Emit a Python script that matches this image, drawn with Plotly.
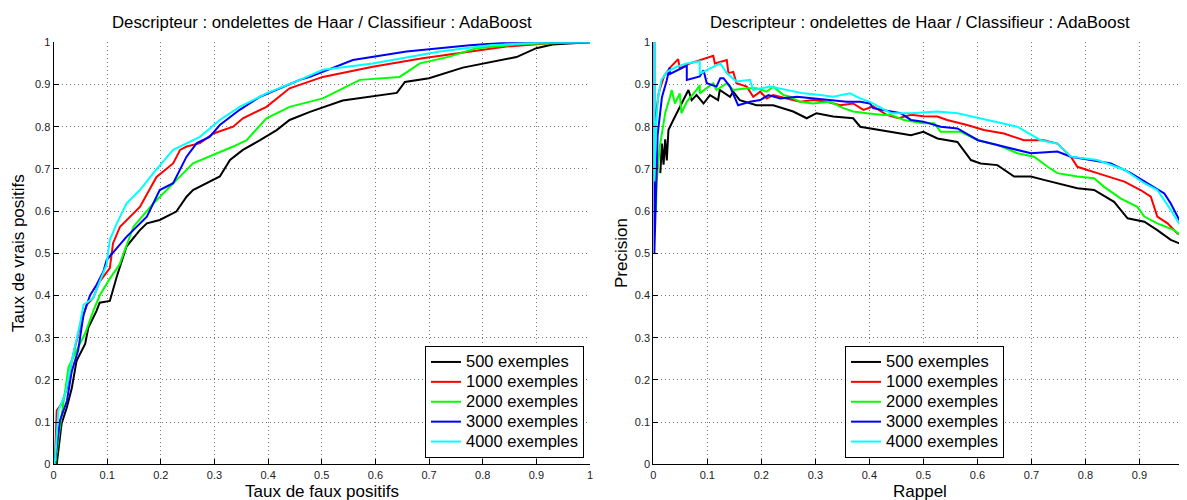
import plotly.graph_objects as go

# ROC curves (taux de faux positifs / taux de vrais positifs)
roc_fpr_500 = [0, 0.006, 0.015, 0.025, 0.034, 0.043, 0.059, 0.065, 0.08, 0.086,
               0.105, 0.118, 0.136, 0.161, 0.174, 0.198, 0.229, 0.248, 0.26, 0.285,
               0.31, 0.329, 0.353, 0.385, 0.416, 0.44, 0.478, 0.539, 0.60, 0.64,
               0.655, 0.70, 0.763, 0.82, 0.863, 0.90, 0.93, 1.0]
roc_tpr_500 = [0, 0, 0.096, 0.135, 0.18, 0.245, 0.285, 0.324, 0.363, 0.383,
               0.387, 0.445, 0.516, 0.555, 0.571, 0.579, 0.599, 0.634, 0.65, 0.666,
               0.682, 0.721, 0.745, 0.768, 0.792, 0.816, 0.835, 0.862, 0.872, 0.88,
               0.906, 0.915, 0.94, 0.955, 0.965, 0.986, 0.995, 1.0]

roc_fpr_1000 = [0, 0.003, 0.006, 0.015, 0.025, 0.034, 0.049, 0.062, 0.074, 0.086,
                0.105, 0.111, 0.124, 0.161, 0.192, 0.223, 0.236, 0.248, 0.273, 0.298,
                0.335, 0.353, 0.397, 0.44, 0.502, 0.595, 0.688, 0.781, 0.844, 0.925, 1.0]
roc_tpr_1000 = [0, 0.017, 0.127, 0.143, 0.18, 0.245, 0.324, 0.378, 0.394, 0.433,
                0.465, 0.524, 0.563, 0.61, 0.681, 0.713, 0.745, 0.753, 0.761, 0.784,
                0.80, 0.82, 0.847, 0.891, 0.918, 0.942, 0.962, 0.978, 0.99, 0.998, 1.0]

roc_fpr_2000 = [0, 0.003, 0.012, 0.022, 0.028, 0.043, 0.059, 0.074, 0.086, 0.105,
                0.123, 0.149, 0.186, 0.242, 0.26, 0.335, 0.36, 0.397, 0.44, 0.502,
                0.571, 0.645, 0.683, 0.738, 0.788, 0.874, 1.0]
roc_tpr_2000 = [0, 0, 0.088, 0.18, 0.23, 0.27, 0.31, 0.363, 0.40, 0.44,
                0.473, 0.563, 0.618, 0.69, 0.713, 0.753, 0.768, 0.82, 0.847, 0.867,
                0.911, 0.918, 0.95, 0.966, 0.986, 0.996, 1.0]

roc_fpr_3000 = [0, 0.003, 0.012, 0.025, 0.034, 0.046, 0.056, 0.068, 0.08, 0.093,
                0.099, 0.136, 0.174, 0.198, 0.223, 0.248, 0.267, 0.291, 0.31, 0.347,
                0.385, 0.422, 0.459, 0.478, 0.558, 0.658, 0.776, 0.844, 1.0]
roc_tpr_3000 = [0, 0.01, 0.104, 0.15, 0.22, 0.27, 0.355, 0.40, 0.425, 0.457,
                0.484, 0.539, 0.587, 0.65, 0.666, 0.729, 0.761, 0.776, 0.804, 0.84,
                0.871, 0.891, 0.911, 0.918, 0.958, 0.978, 0.993, 0.999, 1.0]

roc_fpr_4000 = [0, 0.003, 0.009, 0.022, 0.034, 0.049, 0.056, 0.074, 0.086, 0.099,
                0.105, 0.118, 0.136, 0.161, 0.186, 0.223, 0.273, 0.31, 0.347, 0.397,
                0.459, 0.502, 0.595, 0.72, 0.813, 0.906, 1.0]
roc_tpr_4000 = [0, 0.01, 0.127, 0.167, 0.245, 0.33, 0.378, 0.394, 0.433, 0.473,
                0.532, 0.571, 0.618, 0.65, 0.69, 0.745, 0.776, 0.816, 0.847, 0.879,
                0.911, 0.935, 0.95, 0.978, 0.993, 0.999, 1.0]

# Precision / rappel curves
pr_rec_500 = [0.013, 0.016, 0.019, 0.022, 0.025, 0.028, 0.037, 0.049, 0.065, 0.071,
              0.08, 0.093, 0.105, 0.12, 0.123, 0.142, 0.148, 0.16, 0.191, 0.222,
              0.247, 0.259, 0.284, 0.302, 0.333, 0.37, 0.383, 0.42, 0.458, 0.477,
              0.5, 0.526, 0.563, 0.588, 0.606, 0.637, 0.668, 0.699, 0.723, 0.748,
              0.785, 0.816, 0.853, 0.878, 0.909, 0.933, 0.958, 0.988]
pr_prec_500 = [0.69, 0.76, 0.71, 0.77, 0.72, 0.792, 0.816, 0.848, 0.887, 0.863,
               0.875, 0.855, 0.875, 0.863, 0.887, 0.871, 0.883, 0.863, 0.851, 0.851,
               0.84, 0.836, 0.82, 0.832, 0.824, 0.82, 0.80, 0.792, 0.784, 0.78,
               0.788, 0.772, 0.764, 0.721, 0.713, 0.709, 0.682, 0.682, 0.674, 0.666,
               0.654, 0.65, 0.622, 0.583, 0.575, 0.555, 0.532, 0.516]

pr_rec_1000 = [0.002, 0.01, 0.02, 0.031, 0.046, 0.049, 0.068, 0.086, 0.111, 0.114,
               0.136, 0.139, 0.148, 0.154, 0.173, 0.185, 0.198, 0.21, 0.222, 0.247,
               0.272, 0.296, 0.321, 0.346, 0.37, 0.389, 0.407, 0.432, 0.454, 0.477,
               0.5, 0.526, 0.544, 0.581, 0.612, 0.649, 0.686, 0.723, 0.748, 0.773,
               0.785, 0.822, 0.872, 0.902, 0.921, 0.933, 0.952, 0.97, 0.986]
pr_prec_1000 = [0.80, 0.88, 0.92, 0.94, 0.96, 0.938, 0.95, 0.958, 0.968, 0.95,
                0.958, 0.927, 0.93, 0.903, 0.895, 0.871, 0.883, 0.867, 0.875, 0.867,
                0.859, 0.863, 0.859, 0.851, 0.855, 0.84, 0.848, 0.828, 0.82, 0.828,
                0.825, 0.824, 0.816, 0.804, 0.792, 0.784, 0.768, 0.768, 0.76, 0.729,
                0.705, 0.69, 0.67, 0.65, 0.634, 0.587, 0.571, 0.547, 0.539]

pr_rec_2000 = [0.005, 0.006, 0.012, 0.022, 0.031, 0.034, 0.04, 0.049, 0.052, 0.062,
               0.08, 0.086, 0.086, 0.102, 0.111, 0.117, 0.136, 0.148, 0.173, 0.191,
               0.21, 0.222, 0.241, 0.253, 0.272, 0.296, 0.327, 0.352, 0.37, 0.395,
               0.426, 0.44, 0.464, 0.5, 0.52, 0.532, 0.569, 0.601, 0.637, 0.674,
               0.705, 0.73, 0.748, 0.785, 0.816, 0.834, 0.865, 0.896, 0.909, 0.933,
               0.964, 0.986]
pr_prec_2000 = [0.60, 0.666, 0.753, 0.832, 0.871, 0.887, 0.855, 0.879, 0.832, 0.859,
                0.887, 0.899, 0.879, 0.895, 0.903, 0.887, 0.903, 0.887, 0.891, 0.891,
                0.883, 0.895, 0.875, 0.871, 0.859, 0.855, 0.859, 0.844, 0.836, 0.832,
                0.828, 0.828, 0.816, 0.808, 0.808, 0.788, 0.788, 0.768, 0.757, 0.737,
                0.729, 0.705, 0.69, 0.682, 0.678, 0.658, 0.63, 0.61, 0.587, 0.571,
                0.555, 0.532]

pr_rec_3000 = [0.0, 0.002, 0.002, 0.008, 0.016, 0.025, 0.03, 0.031, 0.062, 0.062,
               0.086, 0.093, 0.099, 0.117, 0.124, 0.13, 0.142, 0.157, 0.179, 0.198,
               0.213, 0.235, 0.266, 0.296, 0.327, 0.358, 0.383, 0.401, 0.407, 0.44,
               0.458, 0.477, 0.5, 0.532, 0.563, 0.601, 0.625, 0.662, 0.699, 0.748,
               0.773, 0.81, 0.847, 0.884, 0.915, 0.946, 0.958, 0.977, 0.989]
pr_prec_3000 = [1.0, 1.0, 0.5, 0.78, 0.87, 0.91, 0.94, 0.925, 0.945, 0.911,
                0.919, 0.934, 0.903, 0.895, 0.915, 0.915, 0.895, 0.851, 0.859, 0.863,
                0.875, 0.867, 0.871, 0.867, 0.863, 0.859, 0.859, 0.855, 0.844, 0.836,
                0.832, 0.816, 0.812, 0.80, 0.796, 0.768, 0.76, 0.749, 0.737, 0.741,
                0.729, 0.721, 0.713, 0.69, 0.666, 0.642, 0.618, 0.571, 0.555]

pr_rec_4000 = [0.0, 0.002, 0.002, 0.005, 0.009, 0.015, 0.025, 0.043, 0.062, 0.086,
               0.086, 0.105, 0.124, 0.136, 0.154, 0.179, 0.185, 0.216, 0.247, 0.278,
               0.309, 0.333, 0.364, 0.383, 0.401, 0.44, 0.477, 0.526, 0.563, 0.606,
               0.674, 0.717, 0.748, 0.773, 0.822, 0.872, 0.909, 0.933, 0.958, 0.977,
               0.989]
pr_prec_4000 = [1.0, 1.0, 0.67, 0.80, 0.871, 0.911, 0.93, 0.942, 0.95, 0.955,
                0.926, 0.938, 0.95, 0.927, 0.907, 0.911, 0.887, 0.895, 0.887, 0.879,
                0.875, 0.871, 0.879, 0.867, 0.859, 0.832, 0.832, 0.836, 0.832, 0.82,
                0.80, 0.768, 0.76, 0.729, 0.721, 0.698, 0.666, 0.65, 0.603, 0.563,
                0.539]

labels = ["500 exemples", "1000 exemples", "2000 exemples", "3000 exemples", "4000 exemples"]
colors = ["#000000", "#ff0000", "#00ff00", "#0000ff", "#00ffff"]
roc_data = [(roc_fpr_500, roc_tpr_500), (roc_fpr_1000, roc_tpr_1000), (roc_fpr_2000, roc_tpr_2000),
            (roc_fpr_3000, roc_tpr_3000), (roc_fpr_4000, roc_tpr_4000)]
pr_data = [(pr_rec_500, pr_prec_500), (pr_rec_1000, pr_prec_1000), (pr_rec_2000, pr_prec_2000),
           (pr_rec_3000, pr_prec_3000), (pr_rec_4000, pr_prec_4000)]

title_text = "Descripteur : ondelettes de Haar / Classifieur : AdaBoost"
font = "Liberation Sans, Arial, sans-serif"
W, H = 1187, 500
OFF = 8  # the page body adds an 8px margin


def px(x):
    return (x - OFF) / W


def py(y):
    return (H - (y - OFF)) / H


def legend_name(s):
    # bigger glyphs than the legend font so the rows stay tight like the original
    return f"<span style='font-size:16.5px'>{s}</span>"


fig = go.Figure()
for (x, y), name, c in zip(roc_data, labels, colors):
    fig.add_trace(go.Scatter(x=x, y=y, mode='lines', name=legend_name(name),
                             line=dict(color=c, width=2),
                             xaxis='x', yaxis='y', legend='legend'))
for (x, y), name, c in zip(pr_data, labels, colors):
    fig.add_trace(go.Scatter(x=x, y=y, mode='lines', name=legend_name(name),
                             line=dict(color=c, width=2),
                             xaxis='x2', yaxis='y2', legend='legend2'))

ax_common = dict(showline=True, linecolor='black', linewidth=1, mirror=False, automargin=False,
                 ticks='inside', ticklen=5, tickcolor='black',
                 showgrid=True, gridcolor='#777777', griddash='1px,3px', gridwidth=1,
                 zeroline=False, tickfont=dict(family=font, size=11, color='#222'))

ticks10 = [i / 10 for i in range(11)]
tick_text = ["0"] + [f"{t:.1f}" for t in ticks10[1:-1]] + ["1"]

legend_common = dict(bgcolor='white', bordercolor='black', borderwidth=1,
                     font=dict(family=font, size=13, color='black'),
                     xanchor='right', yanchor='bottom', tracegroupgap=0, itemwidth=30)


def note(text, x, y, size, angle=0):
    return dict(text=text, x=px(x), y=py(y), xref='paper', yref='paper',
                xanchor='center', yanchor='middle', showarrow=False, textangle=angle,
                font=dict(size=size, family=font, color='black'))


fig.update_layout(
    width=W, height=H,
    margin=dict(l=0, r=0, t=0, b=0),
    paper_bgcolor='white', plot_bgcolor='white',
    font=dict(family=font, color='black'),
    xaxis=dict(domain=[px(53.5), px(590)], range=[0, 1], tickvals=ticks10, ticktext=tick_text,
               anchor='y', **ax_common),
    yaxis=dict(domain=[py(464.3), py(42.3)], range=[0, 1], tickvals=ticks10,
               ticktext=tick_text, anchor='x', **ax_common),
    xaxis2=dict(domain=[px(653.3), px(1187)], range=[0, 0.988], tickvals=ticks10[:-1],
                ticktext=tick_text[:-1], anchor='y2', **ax_common),
    yaxis2=dict(domain=[py(464.3), py(42.3)], range=[0, 1], tickvals=ticks10,
                ticktext=tick_text, anchor='x2', **ax_common),
    legend=dict(x=px(584), y=py(458), **legend_common),
    legend2=dict(x=px(1004), y=py(458), **legend_common),
    annotations=[
        note(title_text, 322, 22, 16.8),
        note(title_text, 920, 22, 16.8),
        note("Taux de faux positifs", 322, 491, 17),
        note("Rappel", 920, 491, 17),
        note("Taux de vrais positifs", 18, 253, 17, -90),
        note("Precision", 621, 253, 17, -90),
    ],
)

fig.write_html("out.html")
